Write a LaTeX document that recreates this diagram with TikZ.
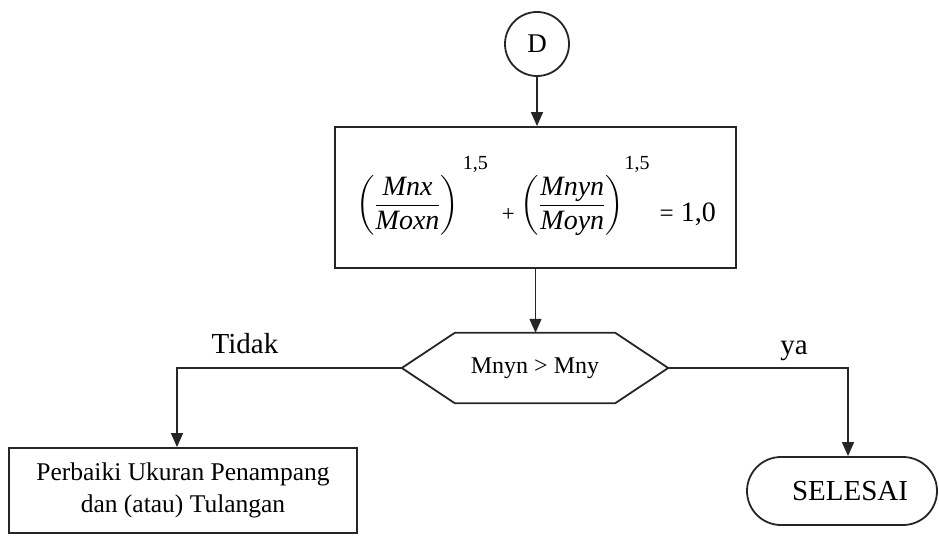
\documentclass[tikz,border=0pt]{standalone}
\usepackage{amsmath}
\usepackage{fontspec}
\setmainfont{Liberation Serif}
\usetikzlibrary{arrows.meta,shapes.misc,calc}

% pieces of the interaction formula
\newcommand{\ratio}[2]{\raisebox{10pt}{$\left(\dfrac{\textit{#1}}{\textit{#2}}\right)$}}
\newcommand{\powr}{\raisebox{52pt}{\fontsize{20}{20}\selectfont 1,5}}

\begin{document}
\begin{tikzpicture}[x=1pt,y=-1pt,
  outline/.style={draw=black!85, line width=1.8pt},
  flow/.style={draw=black!85, line width=1.4pt},
  arrowflow/.style={flow, -{Triangle[length=14pt,width=12pt]}},
  lbl/.style={font=\fontsize{29}{34}\selectfont, inner sep=0pt, anchor=base},
]
\useasboundingbox (0,0) rectangle (939,540);

% connector circle
\node[outline, circle, minimum size=64pt, inner sep=0pt,
      font=\fontsize{27}{30}\selectfont] (d) at (537,44) {D};

% interaction formula
\node[outline, rectangle, minimum width=401pt, minimum height=141pt, inner sep=0pt]
  (cond) at (535.5,197.5) {};
\node[inner sep=0pt, anchor=base, font=\fontsize{28}{30}\selectfont] (formula) at (536,222)
  {\ratio{Mnx}{Moxn}\hspace{4pt}\powr\hspace{14pt}{\fontsize{23}{24}\selectfont +}\hspace{6pt}\ratio{Mnyn}{Moyn}\hspace{1pt}\powr\hspace{10pt}{\fontsize{25}{28}\selectfont =} 1,0};

% decision
\node[minimum width=266pt, minimum height=70pt, inner sep=0pt,
      font=\fontsize{24}{28}\selectfont] (test) at (535,368) {Mnyn \textgreater{} Mny};
\draw[outline] (test.west) -- ($(test.north west)+(53,0)$) -- ($(test.north east)+(-53,0)$)
  -- (test.east) -- ($(test.south east)+(-53,0)$) -- ($(test.south west)+(53,0)$) -- cycle;

% outcomes
\node[outline, rectangle, minimum width=348pt, minimum height=85pt, inner sep=0pt,
      align=center, font=\fontsize{25.5}{32}\selectfont] (fix) at (183,490.5)
  {Perbaiki Ukuran Penampang\\dan (atau) Tulangan};
\node[outline, rounded rectangle, minimum width=190pt, minimum height=68pt, inner sep=0pt,
      font=\fontsize{29}{34}\selectfont] (done) at (842,491) {\hspace{16pt}SELESAI};

% branch labels
\node[lbl] (no) at (245,353) {Tidak};
\node[lbl] (yes) at (794,354) {ya};

% connectors
\coordinate (lturn) at (177,368);
\coordinate (rturn) at (848,368);
\draw[arrowflow] (d.south) -- (d.south |- cond.north);
\draw[arrowflow] (cond.south) -- (cond.south |- test.north);
\draw[arrowflow] (test.west) -- (lturn) -- (lturn |- fix.north);
\draw[arrowflow] (test.east) -- (rturn) -- (rturn |- done.north);
\end{tikzpicture}
\end{document}
